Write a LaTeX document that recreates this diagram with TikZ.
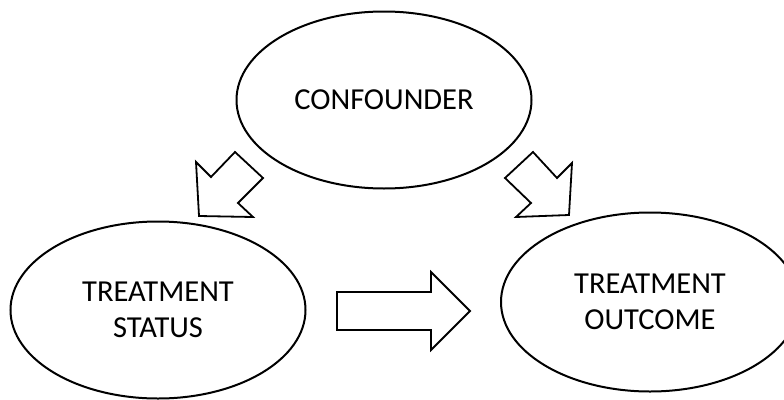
\documentclass[tikz,border=0pt]{standalone}
\usepackage{fontspec}
\setmainfont{Carlito}
\usetikzlibrary{shapes.geometric}
\begin{document}
\begin{tikzpicture}[x=1pt,y=-1pt,
  oval/.style={draw=black,line width=2pt,ellipse,inner sep=0pt,
    minimum width=295pt,minimum height=177pt,align=center,
    font=\fontsize{30.5}{36}\selectfont},
  blockarrow/.style={draw=black,line width=1.8pt,line join=miter,fill=white}]
\clip (0,0) rectangle (784,399);
\useasboundingbox (0,0) rectangle (784,399);
\node[oval] (conf) at (384,100) {CONFOUNDER};
\node[oval] (status) at (158,310) {TREATMENT\\STATUS};
\node[oval,minimum width=298pt,minimum height=179pt] (outcome) at (650,302) {TREATMENT\\OUTCOME};
% block arrows
\draw[blockarrow] (235,152) -- (263,178) -- (238,203) -- (253,217) -- (199,216) -- (196,162) -- (211,177) -- cycle;
\draw[blockarrow] (533,152) -- (505,178) -- (531,203) -- (516,217) -- (569,215) -- (572,163) -- (557,178) -- cycle;
\draw[blockarrow] (337,292) -- (431,292) -- (431,272) -- (470,311) -- (431,350) -- (431,330) -- (337,330) -- cycle;
\end{tikzpicture}
\end{document}
